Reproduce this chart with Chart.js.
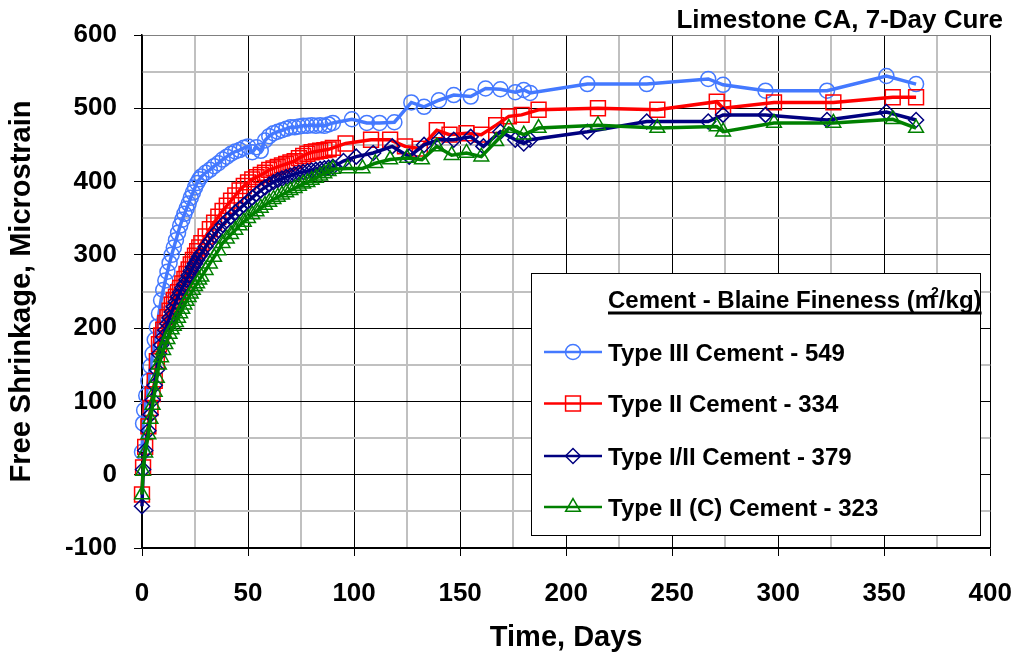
<!DOCTYPE html>
<html>
<head>
<meta charset="utf-8">
<title>Limestone CA, 7-Day Cure</title>
<script src="https://cdn.jsdelivr.net/npm/chart.js@4.4.1/dist/chart.umd.min.js"></script>
<style>
  html, body { margin: 0; padding: 0; background: #fff; }
  #chart { display: block; }
</style>
</head>
<body>
<canvas id="chart" width="1034" height="656"></canvas>
<script>
'use strict';

/*************************************************************************************************/
/********************************** Data *********************************************************/
/*************************************************************************************************/

var chartTitle = 'Limestone CA, 7-Day Cure';
var xTitle = 'Time, Days';
var yTitle = 'Free Shrinkage, Microstrain';
var legendTitle = 'Cement - Blaine Fineness (m';   // followed by a superscript 2 and '/kg)'

var seriesNames = ['Type III Cement - 549', 'Type II Cement - 334', 'Type I/II Cement - 379', 'Type II (C) Cement - 323'];

// Type III - 549
var type3Days = [0, 0.5, 1, 2, 3, 4, 5, 6, 7, 8,
  9, 10, 11, 12, 13, 14, 15, 16, 17, 18, 19, 20, 21, 22, 23, 24, 25, 26, 27, 28,
  30, 32, 34, 36, 38, 40, 42, 44, 46, 48, 50, 52, 54, 56, 58, 60, 62, 64, 66, 68, 70, 72, 74, 76, 78, 80, 82, 84, 86, 88, 90,
  99, 106, 112, 119, 127, 133, 140, 147, 155, 162, 169, 176, 180, 183,
  210, 238, 267, 274, 294, 323, 351, 365];
var type3Vals = [31, 70, 88, 108, 128, 148, 165, 184, 202, 220,
  238, 252, 265, 277, 289, 300, 310, 320, 330, 340, 348, 356, 363, 370, 378, 385, 392, 398, 403, 407,
  412, 416, 421, 425, 430, 434, 438, 441, 443, 446, 448, 440, 447, 442, 456, 462, 466, 468, 470, 472, 474, 474, 475, 476, 476, 477, 476, 477, 476, 478, 480,
  485, 480, 480, 481, 508, 502, 511, 518, 516, 527, 526, 522, 525, 521,
  533, 533, 540, 532, 524, 524, 544, 533];

// Type II - 334
var type2Days = [0, 0.5, 1.5, 3, 4, 5, 6, 7, 8,
  9, 10, 11, 12, 13, 14, 15, 16, 17, 18, 19, 20, 21, 22, 23, 24, 25, 26, 27, 28,
  30, 32, 34, 36, 38, 40, 42, 44, 46, 48, 50, 52, 54, 56, 58, 60, 62, 64, 66, 68, 70, 72, 74, 76, 78, 80, 82, 84, 86, 88, 90,
  96, 108, 117, 124, 131, 139, 145, 153, 160, 167, 173, 179, 187,
  215, 243, 271, 274, 298, 326, 354, 365];
var type2Vals = [-27, 10, 38, 66, 91, 110, 128, 155, 178,
  190, 198, 207, 215, 224, 232, 238, 243, 249, 255, 261, 267, 274, 280, 287, 293, 299, 305, 310, 316,
  325, 335, 344, 352, 360, 367, 374, 381, 388, 394, 399, 403, 406, 409, 412, 416, 418, 420, 422, 424, 426, 428, 432, 435, 438, 440, 441, 442, 443, 444, 446,
  452, 457, 457, 448, 445, 470, 464, 466, 464, 477, 489, 491, 498,
  500, 498, 509, 500, 508, 508, 515, 515];

// Type I/II - 379
var type12Days = [0, 0.5, 1.5, 3, 4, 5, 6, 7, 8,
  9, 10, 11, 12, 13, 14, 15, 16, 17, 18, 19, 20, 21, 22, 23, 24, 25, 26, 27, 28,
  30, 32, 34, 36, 38, 40, 42, 44, 46, 48, 50, 52, 54, 56, 58, 60, 62, 64, 66, 68, 70, 72, 74, 76, 78, 80, 82, 84, 86, 88, 90,
  95, 101, 109, 118, 126, 133, 140, 147, 155, 161, 169, 176, 180, 183,
  210, 238, 267, 274, 294, 323, 351, 365];
var type12Vals = [-43, 7, 33, 60, 82, 102, 122, 143, 165,
  177, 188, 197, 206, 214, 222, 229, 236, 243, 249, 255, 260, 266, 272, 278, 283, 288, 293, 298, 302,
  311, 319, 327, 334, 341, 347, 352, 358, 363, 368, 373, 378, 383, 388, 392, 396, 399, 402, 404, 406, 408, 410, 412, 413, 414, 415, 416, 417, 418, 419, 420,
  428, 434, 439, 448, 434, 450, 457, 457, 461, 448, 468, 457, 452, 457,
  468, 482, 482, 491, 491, 484, 495, 484];

// Type II (C) - 323
var type2cDays = [0, 0.5, 1.5, 3, 4, 5, 6, 7, 8,
  9, 10, 11, 12, 13, 14, 15, 16, 17, 18, 19, 20, 21, 22, 23, 24, 25, 26, 27, 28,
  30, 32, 34, 36, 38, 40, 42, 44, 46, 48, 50, 52, 54, 56, 58, 60, 62, 64, 66, 68, 70, 72, 74, 76, 78, 80, 82, 84, 86, 88, 90,
  97, 104, 110, 117, 125, 132, 139, 146, 153, 160, 167, 173, 180, 187,
  215, 243, 271, 274, 298, 326, 354, 365];
var type2cVals = [-27, 5, 30, 55, 76, 95, 113, 132, 150,
  160, 170, 178, 185, 192, 198, 203, 208, 214, 220, 226, 232, 237, 242, 247, 252, 257, 261, 266, 270,
  279, 288, 297, 306, 316, 322, 328, 334, 340, 345, 350, 355, 359, 364, 368, 372, 376, 379, 382, 385, 388, 391, 394, 397, 399, 402, 405, 408, 411, 414, 417,
  418, 418, 425, 430, 432, 430, 448, 436, 439, 434, 455, 473, 464, 473,
  477, 473, 475, 468, 480, 480, 485, 473];

var xTicks = [0, 50, 100, 150, 200, 250, 300, 350, 400];
var yTicks = [-100, 0, 100, 200, 300, 400, 500, 600];

/*************************************************************************************************/
/********************************** Building the chart *******************************************/
/*************************************************************************************************/

var FONT = "'Liberation Sans', Arial, sans-serif";

function toPoints(days, vals) {
  return days.map(function(d, i) { return { x: d, y: vals[i] }; });
}

function makeSeries(idx, days, vals, color, style, radius, order) {
  return {
    label: seriesNames[idx],
    data: toPoints(days, vals),
    showLine: true,
    borderColor: color,
    borderWidth: 3.5,
    pointStyle: style,
    pointRadius: radius,
    pointBorderWidth: 1.5,
    pointBorderColor: color,
    pointBackgroundColor: 'rgba(0,0,0,0)',
    tension: 0,
    clip: false,
    order: order
  };
}

var datasets = [
  makeSeries(0, type3Days, type3Vals, '#4479ff', 'circle', 7.5, 4),
  makeSeries(1, type2Days, type2Vals, '#ff0000', 'rect', 10.5, 3),
  makeSeries(2, type12Days, type12Vals, '#000080', 'rectRot', 7.5, 2),
  makeSeries(3, type2cDays, type2cVals, '#008000', 'triangle', 8.5, 1)
];

function isMajor(value, step) {
  return Math.abs(value % step) < 1e-6;
}

// title in the top right corner + boxed legend
var decorPlugin = {
  id: 'decor',
  afterDraw: function(chart) {
    var ctx = chart.ctx;
    ctx.save();

    ctx.fillStyle = '#000';
    ctx.font = 'bold 26px ' + FONT;
    ctx.textAlign = 'right';
    ctx.textBaseline = 'alphabetic';
    ctx.fillText(chartTitle, 1003, 28);

    // legend box
    var bx = 531, by = 273, bw = 449, bh = 262;
    ctx.fillStyle = '#fff';
    ctx.fillRect(bx, by, bw, bh);
    ctx.strokeStyle = '#000';
    ctx.lineWidth = 1;
    ctx.strokeRect(bx + 0.5, by + 0.5, bw, bh);

    var tx = 608;
    ctx.fillStyle = '#000';
    ctx.textAlign = 'left';
    ctx.font = 'bold 24px ' + FONT;
    ctx.fillText(legendTitle, tx, 308);
    var w1 = ctx.measureText(legendTitle).width - 5;
    ctx.font = 'bold 14px ' + FONT;
    ctx.fillText('2', tx + w1, 297);
    var w2 = ctx.measureText('2').width;
    ctx.font = 'bold 24px ' + FONT;
    ctx.fillText('/kg)', tx + w1 + w2, 308);
    var w3 = ctx.measureText('/kg)').width;
    ctx.fillRect(tx, 311.5, w1 + w2 + w3, 3);

    var rowY = [352, 403.5, 456, 507];
    chart.data.datasets.forEach(function(ds, i) {
      var cy = rowY[i];
      ctx.strokeStyle = ds.borderColor;
      ctx.lineWidth = 2.5;
      ctx.beginPath();
      ctx.moveTo(544, cy);
      ctx.lineTo(602, cy);
      ctx.stroke();
      ctx.fillStyle = 'rgba(0,0,0,0)';
      ctx.lineWidth = 1.5;
      Chart.helpers.drawPoint(ctx, {
        pointStyle: ds.pointStyle,
        radius: ds.pointRadius,
        borderWidth: 1.5
      }, 573, cy);
      ctx.fillStyle = '#000';
      ctx.font = 'bold 24px ' + FONT;
      ctx.fillText(ds.label, tx, cy + 8.5);
    });

    ctx.restore();
  }
};

var chart = new Chart(document.getElementById('chart').getContext('2d'), {
  type: 'scatter',
  data: { datasets: datasets },
  options: {
    responsive: false,
    animation: false,
    layout: { padding: { top: 35, right: 28, left: 0, bottom: 0 } },
    plugins: {
      legend: { display: false },
      tooltip: { enabled: false }
    },
    scales: {
      x: {
        type: 'linear',
        min: 0,
        max: 400,
        afterFit: function(scale) { scale.height = 108; },
        afterBuildTicks: function(scale) {
          var t = [];
          for (var v = 0; v <= 400; v += 25) t.push({ value: v });
          scale.ticks = t;
        },
        ticks: {
          autoSkip: false,
          maxRotation: 0,
          padding: 22,
          color: '#000',
          font: { family: FONT, size: 26, weight: 'bold' },
          callback: function(v) { return xTicks.indexOf(v) >= 0 ? String(v) : ''; }
        },
        grid: {
          color: function(c) { return isMajor(c.tick.value, 50) ? '#000' : '#c0c0c0'; },
          lineWidth: function(c) { return isMajor(c.tick.value, 50) ? 1 : 2; },
          tickLength: 8,
          tickColor: function(c) { return isMajor(c.tick.value, 50) ? '#000' : 'rgba(0,0,0,0)'; }
        },
        border: { color: '#000', width: 1.5 },
        title: {
          display: true,
          text: xTitle,
          color: '#000',
          font: { family: FONT, size: 29, weight: 'bold' },
          padding: { top: 0, bottom: 1 }
        }
      },
      y: {
        type: 'linear',
        min: -100,
        max: 600,
        afterFit: function(scale) { scale.width = 142; },
        afterBuildTicks: function(scale) {
          var t = [];
          for (var v = -100; v <= 600; v += 50) t.push({ value: v });
          scale.ticks = t;
        },
        ticks: {
          autoSkip: false,
          padding: 17,
          color: '#000',
          font: { family: FONT, size: 26, weight: 'bold' },
          callback: function(v) { return yTicks.indexOf(v) >= 0 ? String(v) : ''; }
        },
        grid: {
          color: function(c) {
            if (c.tick.value === 600) return '#808080';
            return isMajor(c.tick.value, 100) ? '#000' : '#c0c0c0';
          },
          lineWidth: function(c) { return isMajor(c.tick.value, 100) ? 1 : 2; },
          tickLength: 8,
          tickColor: function(c) { return isMajor(c.tick.value, 100) ? '#000' : 'rgba(0,0,0,0)'; }
        },
        border: { color: '#000', width: 1.5 },
        title: {
          display: true,
          text: yTitle,
          color: '#000',
          font: { family: FONT, size: 29, weight: 'bold' },
          padding: { top: 5, bottom: 0 }
        }
      }
    }
  },
  plugins: [decorPlugin]
});
</script>
</body>
</html>
